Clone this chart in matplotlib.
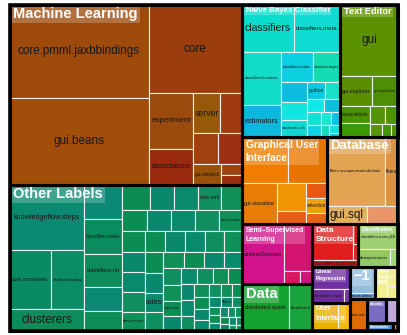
import matplotlib
matplotlib.use("Agg")
import matplotlib.pyplot as plt
from matplotlib.patches import Rectangle

# ---------------- data (leaf sizes) ----------------
ml_title = "Machine Learning"
ml_names = ["core.pmml.jaxbbindings", "gui.beans", "core", "experiment", "associations",
            "server", "", "", "", "gui.simplecli", "", ""]
ml_values = [13020, 12180, 8300, 2508, 1628, 1100, 880, 775, 729, 588, 225, 205]
ml_colors = ["#9d4a0b", "#a04e09", "#9c3d0d", "#9b4b0d", "#9a2a0e", "#96590c",
             "#a03a10", "#a0400e", "#9c3010", "#98520c", "#a04414", "#9a2c10"]

other_title = "Other Labels"
other_names = ["knowledgeflow.steps", "core.converters", "distributed.hadoop", "clusterers",
               "", "classifiers.trees", "classifiers.mi", "", ""]
other_values = [4940, 2436, 1972, 1672, 1300, 1330, 1216, 912, 760]
other_colors = ["#0a8a70", "#0a8a62", "#0b8c66", "#0c8c5a",
                "#0a8a74", "#0b8c5e", "#0c8c5a", "#0a8a72", "#0c8c56"]
other_rest = [700, 620, 600, 560, 540, 530, 520, 510, 500, 490, 480, 470, 460, 450, 440,
              430, 420, 410, 400, 390, 380, 370, 360, 350, 340, 330, 320, 300, 290, 280,
              270, 260, 260, 250, 240, 230, 220, 210, 200, 190, 180, 170, 160, 150, 140,
              130, 120, 110, 100, 95, 90, 85, 80, 75, 70, 65, 60, 55, 50, 45, 40]
other_rest_names = {3: "core.xml", 9: "gui.streams", 14: "pmml.consumer", 22: "rules",
                    30: "bayes.net", 47: "filters"}
other_shades = ["#0b8c52", "#0a8a6c", "#0e9058", "#09886e", "#108e60"]

nb_title = "Naive Bayes Classifier"
nb_names = ["classifiers", "classifiers.meta", "classifiers.functions", "estimators",
            "classifiers.rules", "classifiers.bayes", "", "", "clusterers.sib", "python",
            "", "", "", "", "", "", "", "", "", ""]
nb_values = [2450, 2205, 2080, 1240, 990, 858, 520, 480, 475, 300, 260, 220, 209, 180,
             160, 140, 120, 100, 80, 50]
nb_colors = ["#0cdccc", "#10dcd4", "#10dcc8", "#0cb8dc", "#0cd0e0", "#14dcb4", "#0cbce0",
             "#12e4e0", "#10d8d0", "#0cc8e0", "#18e0c8", "#10e8e8", "#0cc0dc", "#14e0d0",
             "#10d0e4", "#18e4d8", "#0cc4e0", "#12dcc0", "#10e0e0", "#0cc8dc"]

te_title = "Text Editor"
te_names = ["gui", "gui.explorer", "gui.experiment", "associations", "", "", "", "", "", ""]
te_values = [4125, 960, 768, 480, 432, 288, 220, 160, 120, 80]
te_colors = ["#5c9100", "#5a8e02", "#4e8e04", "#4a9006", "#3c9a04", "#56920a",
             "#4a9400", "#5c9006", "#3e9608", "#529004"]

gui_title = "Graphical User\nInterface"
gui_names = ["", "", "gui.visualize", "", "", "", "selection", ""]
gui_values = [2100, 1780, 1450, 830, 400, 320, 320, 240]
gui_colors = ["#f07c00", "#e87400", "#e87c04", "#f09404", "#e85c14", "#e85814",
              "#f0a008", "#e86410"]

db_title = "Database"
db_names = ["filters.unsupervised.attribute", "filters", "gui.sql", ""]
db_values = [4000, 850, 750, 580]
db_colors = ["#e2a452", "#dc9444", "#e2b060", "#e8956a"]

semi_title = "Semi\u2013Supervised\nLearning"
semi_names = ["attributeSelection", "", "", ""]
semi_values = [2560, 1300, 210, 160]
semi_colors = ["#d2148c", "#d41470", "#d81860", "#d01478"]

data_title = "Data"
data_names = ["distributed.spark", "distributed"]
data_values = [2200, 1078]
data_colors = ["#12a02e", "#18a43a"]

ds_title = "Data\nStructure"
ds_names = ["", "classifiers.lazy.kstar", "", ""]
ds_values = [1450, 330, 110, 86]
ds_colors = ["#e01c1c", "#c81414", "#d81818", "#e02424"]

cls_title = "Classification"
cls_names = ["classifiers.trees.j48", "datagenerators", ""]
cls_values = [990, 560, 129]
cls_colors = ["#9cd070", "#94c864", "#a0d478"]

lr_title = "Linear\nRegression"
lr_names = ["", "classifiers.lazy", ""]
lr_values = [820, 460, 88]
lr_colors = ["#7032a0", "#6a2c98", "#7838a8"]

ui_title = "User\nInterface"
ui_names = ["", ""]
ui_values = [720, 344]
ui_colors = ["#e8b000", "#f0ba10"]

neg_title = "\u22121"
neg_names = ["", "smart.select"]
neg_values = [640, 172]
neg_colors = ["#94bcdc", "#6c98c8"]

yel_title = "Logistic\nRegression\nModels"
yel_names = ["", "", ""]
yel_values = [400, 200, 148]
yel_colors = ["#f2f08c", "#ece484", "#f0ec98"]

org_names = ["com.stat"]
org_values = [536]
org_colors = ["#e06a04"]

sec_title = "Security"
sec_values = [446]
sec_colors = ["#7a6cc0"]

lav_values = [282]
lav_colors = ["#c0a8d8"]

sub_title = "Submodules"
sub_values = [208]
sub_colors = ["#3c7ccc"]

pink_values = [40]
pink_colors = ["#f09498"]

# ---------------- build groups ----------------
n_other = len(other_values)
other_all_values = other_values + other_rest
other_all_names = other_names + [other_rest_names.get(i, "") for i in range(len(other_rest))]
other_all_colors = other_colors + [other_shades[(i * 3) % 5] for i in range(len(other_rest))]
other_tree = ("h", [("v", [0, ("h", [1, 2]), 3]), ("v", [4, 5, 6, 7, 8]),
                    ("sq", list(range(n_other, len(other_all_values))))])


def sq(n):
    return ("sq", list(range(n)))


groups = {
    "ml": (ml_title, ml_names, ml_values, ml_colors, sq(len(ml_values))),
    "other": (other_title, other_all_names, other_all_values, other_all_colors, other_tree),
    "nb": (nb_title, nb_names, nb_values, nb_colors, sq(len(nb_values))),
    "te": (te_title, te_names, te_values, te_colors, sq(len(te_values))),
    "gui": (gui_title, gui_names, gui_values, gui_colors,
            ("v", [("h", [0, 1]), ("h", [2, ("v", [3, 4]), ("v", [5, 6, 7])])])),
    "db": (db_title, db_names, db_values, db_colors, ("v", [("h", [0, 1]), ("h", [2, 3])])),
    "semi": (semi_title, semi_names, semi_values, semi_colors,
             ("h", [0, ("v", [1, ("h", [2, 3])])])),
    "data": (data_title, data_names, data_values, data_colors, ("h", [0, 1])),
    "ds": (ds_title, ds_names, ds_values, ds_colors, ("v", [("h", [0, ("v", [2, 3])]), 1])),
    "cls": (cls_title, cls_names, cls_values, cls_colors, ("v", [0, ("h", [1, 2])])),
    "lr": (lr_title, lr_names, lr_values, lr_colors, ("v", [0, ("h", [1, 2])])),
    "ui": (ui_title, ui_names, ui_values, ui_colors, ("h", [0, 1])),
    "neg": (neg_title, neg_names, neg_values, neg_colors, ("v", [0, 1])),
    "yel": (yel_title, yel_names, yel_values, yel_colors, ("h", [0, ("v", [1, 2])])),
    "org": ("", org_names, org_values, org_colors, sq(1)),
    "sec": (sec_title, [""], sec_values, sec_colors, sq(1)),
    "lav": ("", [""], lav_values, lav_colors, sq(1)),
    "sub": (sub_title, [""], sub_values, sub_colors, sq(1)),
    "pink": ("", [""], pink_values, pink_colors, sq(1)),
}

top_tree = ("h", [
    ("v", ["ml", "other"]),
    ("v", [("h", ["nb", "te"]),
           ("h", ["gui", "db"]),
           ("h", [("v", ["semi", "data"]),
                  ("v", [("h", ["ds", "cls"]),
                         ("h", [("v", ["lr", "ui"]),
                                ("v", [("h", ["neg", "yel"]),
                                       ("h", ["org", ("v", [("h", ["sec", "lav"]),
                                                            ("h", ["sub", "pink"])])])])])])])]),
])


# ---------------- layout helpers ----------------
def worst(row, length):
    s = sum(row)
    return max(max(length * length * r / (s * s), s * s / (length * length * r)) for r in row)


def squarify(values, x, y, w, h):
    scale = w * h / sum(values)
    areas = [v * scale for v in values]
    rects = []
    i = 0
    while i < len(areas):
        short = min(w, h)
        row = [areas[i]]
        j = i + 1
        while j < len(areas) and worst(row + [areas[j]], short) <= worst(row, short):
            row.append(areas[j])
            j += 1
        s = sum(row)
        if w >= h:
            cw = s / h
            yy = y
            for a in row:
                rects.append((x, yy, cw, a / cw))
                yy += a / cw
            x += cw
            w -= cw
        else:
            rh = s / w
            xx = x
            for a in row:
                rects.append((xx, y, a / rh, rh))
                xx += a / rh
            y += rh
            h -= rh
        i = j
    return rects


def node_sum(node, size_of):
    if not isinstance(node, tuple):
        return size_of(node)
    return sum(node_sum(k, size_of) for k in node[1])


def place(node, rect, size_of, out):
    if not isinstance(node, tuple):
        out[node] = rect
        return
    kind, kids = node
    x, y, w, h = rect
    if kind == "sq":
        for k, r in zip(kids, squarify([size_of(k) for k in kids], x, y, w, h)):
            out[k] = r
        return
    sizes = [node_sum(k, size_of) for k in kids]
    tot = sum(sizes)
    for k, s in zip(kids, sizes):
        if kind == "h":
            ww = w * s / tot
            place(k, (x, y, ww, h), size_of, out)
            x += ww
        else:
            hh = h * s / tot
            place(k, (x, y, w, hh), size_of, out)
            y += hh


# ---------------- drawing ----------------
W, H = 407, 335
fig = plt.figure(figsize=(W / 100, H / 100), dpi=100)
ax = fig.add_axes([0, 0, 1, 1])
ax.set_xlim(0, W)
ax.set_ylim(H, 0)
ax.axis("off")
renderer = fig.canvas.get_renderer()
FONT = "Liberation Sans"


def fit(t, max_w, max_h, max_fs):
    t.set_fontsize(max_fs)
    bb = t.get_window_extent(renderer)
    k = min(1.0, max_w / max(bb.width, 1e-6), max_h / max(bb.height, 1e-6))
    t.set_fontsize(max_fs * k)
    return max_fs * k


frame = (9.5, 4.5, 388.0, 326.5)
group_rects = {}
place(top_tree, frame, lambda g: sum(groups[g][2]), group_rects)

for key, (gx, gy, gw, gh) in group_rects.items():
    title, names, values, colors, tree = groups[key]
    leaf_rects = {}
    place(tree, (gx, gy, gw, gh), lambda i: values[i], leaf_rects)
    for i, (lx, ly, lw, lh) in leaf_rects.items():
        ax.add_patch(Rectangle((lx, ly), lw, lh, facecolor=colors[i],
                               edgecolor="#f2f2f2", linewidth=0.8, zorder=1))
        if names[i]:
            t = ax.text(lx + lw / 2, ly + lh / 2, names[i], ha="center", va="center",
                        color="#161616", family=FONT, zorder=2)
            if fit(t, 0.88 * lw, 0.75 * lh, 8.5) < 1.8:
                t.remove()
    ax.add_patch(Rectangle((gx, gy), gw, gh, fill=False, edgecolor="black",
                           linewidth=2.2, zorder=4))
    if title:
        t = ax.text(gx + 3.5, gy + 2.5, title, ha="left", va="top", color="white",
                    fontweight="bold", family=FONT, linespacing=1.45, zorder=3,
                    bbox=dict(boxstyle="square,pad=0.15", facecolor="white",
                              alpha=0.22, edgecolor="none"))
        fit(t, 0.9 * gw - 4, 0.9 * gh - 3, 10.5)

ax.add_patch(Rectangle(frame[:2], frame[2], frame[3], fill=False, edgecolor="black",
                       linewidth=2.6, zorder=5))

fig.savefig("out.png", dpi=100)
